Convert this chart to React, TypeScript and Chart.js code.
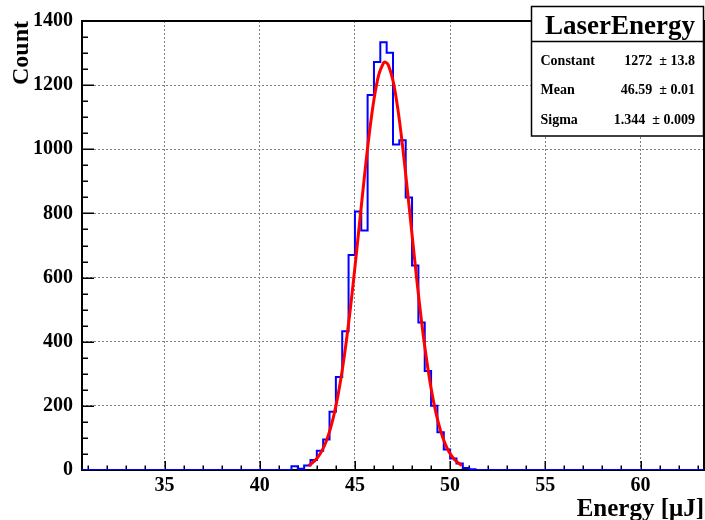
import React, { useEffect, useRef } from 'react';
import { Chart, registerables } from 'chart.js';

Chart.register(...registerables);

// Histogram definition (bins of 1/3 µJ)
const HIST_MIN = 92 / 3; // 30.667
const HIST_MAX = 190 / 3; // 63.333
const BIN_WIDTH = 1 / 3;
const FIRST_BIN_LOW = 124 / 3; // 41.333

// Counts per bin, starting at FIRST_BIN_LOW (all other bins are empty)
const binCounts = [
  0, 12, 4, 14, 31, 60, 95, 182, 290, 433,
  670, 806, 747, 1169, 1272, 1334, 1301, 1015, 1028, 850,
  638, 460, 309, 200, 118, 64, 36, 20, 6, 2, 0,
];

// Gaussian fit curve
const fitX = [
  42.56, 42.75, 43.0, 43.25, 43.5, 43.75, 44.0, 44.25, 44.5, 44.75,
  45.0, 45.25, 45.5, 45.75, 46.0, 46.25, 46.5, 46.6, 46.75, 47.0,
  47.25, 47.5, 47.75, 48.0, 48.25, 48.5, 48.75, 49.0, 49.25, 49.5,
  49.75, 50.0, 50.25, 50.62,
];
const fitY = [
  14, 21.5, 36, 58, 90.5, 136.5, 199, 279.5, 380, 498,
  632, 774, 915.5, 1046, 1155, 1232, 1269, 1272, 1263, 1214,
  1127.5, 1011.5, 876, 734, 593, 463, 350, 255, 179.5, 122,
  80, 51, 31, 14,
];

// Axes
const xMajorTicks = [35, 40, 45, 50, 55, 60];
const Y_MIN = 0;
const Y_MAX = 1400;
const Y_STEP = 200;
const Y_MINOR_STEP = 50;
const X_MINOR_STEP = 1;

// Stats box
const statTitle = 'LaserEnergy';
const statNames = ['Constant', 'Mean', 'Sigma'];
const statValues = ['1272', '46.59', '1.344'];
const statErrors = ['13.8', '0.01', '0.009'];

const SERIF = '"Liberation Serif", "Times New Roman", serif';

export default function App() {
  const canvasRef = useRef<HTMLCanvasElement | null>(null);

  useEffect(() => {
    document.body.style.margin = '0';
    const canvas = canvasRef.current;
    if (!canvas) return;

    const histData: { x: number; y: number }[] = [{ x: HIST_MIN, y: 0 }];
    binCounts.forEach((c, i) => histData.push({ x: FIRST_BIN_LOW + i * BIN_WIDTH, y: c }));
    histData.push({ x: HIST_MAX, y: 0 });

    const fitData = fitX.map((x, i) => ({ x, y: fitY[i] }));

    const rootPlugin = {
      id: 'rootFrame',
      beforeDatasetsDraw(chart: any) {
        const { ctx, chartArea: a, scales } = chart;
        const xs = scales.x;
        const ys = scales.y;
        ctx.save();
        ctx.strokeStyle = '#000';
        ctx.lineWidth = 1.5;
        for (let v = Y_MIN; v <= Y_MAX; v += Y_MINOR_STEP) {
          const py = Math.round(ys.getPixelForValue(v)) + 0.25;
          const len = v % Y_STEP === 0 ? 12 : 6;
          ctx.beginPath();
          ctx.moveTo(a.left, py);
          ctx.lineTo(a.left + len, py);
          ctx.stroke();
        }
        for (let v = Math.ceil(HIST_MIN); v <= HIST_MAX; v += X_MINOR_STEP) {
          const px = Math.round(xs.getPixelForValue(v)) + 0.25;
          const len = v % 5 === 0 ? 9 : 4.5;
          ctx.beginPath();
          ctx.moveTo(px, a.bottom);
          ctx.lineTo(px, a.bottom - len);
          ctx.stroke();
        }
        ctx.lineWidth = 2;
        ctx.strokeRect(a.left, a.top, a.right - a.left, a.bottom - a.top);
        ctx.restore();
      },
      afterDraw(chart: any) {
        const { ctx } = chart;
        ctx.save();
        const bx = 531.5, by = 6.5, bw = 172, bh = 129.5;
        ctx.fillStyle = '#fff';
        ctx.fillRect(bx, by, bw, bh);
        ctx.strokeStyle = '#000';
        ctx.lineWidth = 1.5;
        ctx.strokeRect(bx, by, bw, bh);
        ctx.beginPath();
        ctx.moveTo(bx, 41.5);
        ctx.lineTo(bx + bw, 41.5);
        ctx.stroke();
        ctx.fillStyle = '#000';
        ctx.textBaseline = 'alphabetic';
        ctx.font = `bold 27px ${SERIF}`;
        ctx.textAlign = 'center';
        ctx.fillText(statTitle, 620, 33.5);
        ctx.font = `bold 14px ${SERIF}`;
        const baselines = [64.5, 94, 123.5];
        statNames.forEach((name, i) => {
          ctx.textAlign = 'left';
          ctx.fillText(name, 540.5, baselines[i]);
          ctx.textAlign = 'right';
          ctx.fillText(`${statValues[i]}  \u00b1 ${statErrors[i]}`, 695, baselines[i]);
        });
        ctx.restore();
      },
    };

    const tickFont = { family: SERIF, size: 20, weight: 'bold' as const, lineHeight: 1.2 };

    const chart = new Chart(canvas, {
      type: 'line',
      data: {
        datasets: [
          {
            label: 'fit',
            data: fitData,
            borderColor: '#ff0000',
            borderWidth: 3,
            pointRadius: 0,
            fill: false,
            tension: 0.35,
          },
          {
            label: 'LaserEnergy',
            data: histData,
            borderColor: '#0000ff',
            borderWidth: 2,
            pointRadius: 0,
            fill: false,
            stepped: 'before',
          },
        ],
      },
      options: {
        responsive: false,
        devicePixelRatio: 1,
        animation: false,
        parsing: false as any,
        layout: { padding: { left: 0, right: 1, top: 17, bottom: 0 } },
        plugins: {
          legend: { display: false },
          tooltip: { enabled: false },
        },
        scales: {
          x: {
            type: 'linear',
            min: HIST_MIN,
            max: HIST_MAX,
            afterBuildTicks: (s: any) => {
              s.ticks = xMajorTicks.map((v) => ({ value: v }));
            },
            afterFit: (s: any) => {
              s.height = 50;
            },
            ticks: {
              font: tickFont,
              color: '#000',
              padding: 4,
              maxRotation: 0,
              autoSkip: false,
              callback: (v: any) => String(v),
            },
            grid: { color: '#808080', lineWidth: 1, drawTicks: false },
            border: { display: false, dash: [2, 2] },
            title: {
              display: true,
              text: 'Energy [\u03bcJ]',
              align: 'end',
              color: '#000',
              font: { family: SERIF, size: 25, weight: 'bold', lineHeight: 0.85 },
              padding: { top: 0, bottom: 0 },
            },
          },
          y: {
            type: 'linear',
            min: Y_MIN,
            max: Y_MAX,
            afterFit: (s: any) => {
              s.width = 82;
            },
            ticks: {
              stepSize: Y_STEP,
              font: tickFont,
              color: '#000',
              padding: 9,
              callback: (v: any) => String(v),
            },
            grid: { color: '#808080', lineWidth: 1, drawTicks: false },
            border: { display: false, dash: [2, 2] },
            title: {
              display: true,
              text: 'Count',
              align: 'end',
              color: '#000',
              font: { family: SERIF, size: 24, weight: 'bold', lineHeight: 1 },
              padding: { top: 10, bottom: 0 },
            },
          },
        },
      },
      plugins: [rootPlugin],
    } as any);

    return () => chart.destroy();
  }, []);

  return (
    <div style={{ width: 705, height: 520, background: '#fff' }}>
      <canvas ref={canvasRef} width={705} height={520} style={{ display: 'block' }} />
    </div>
  );
}
